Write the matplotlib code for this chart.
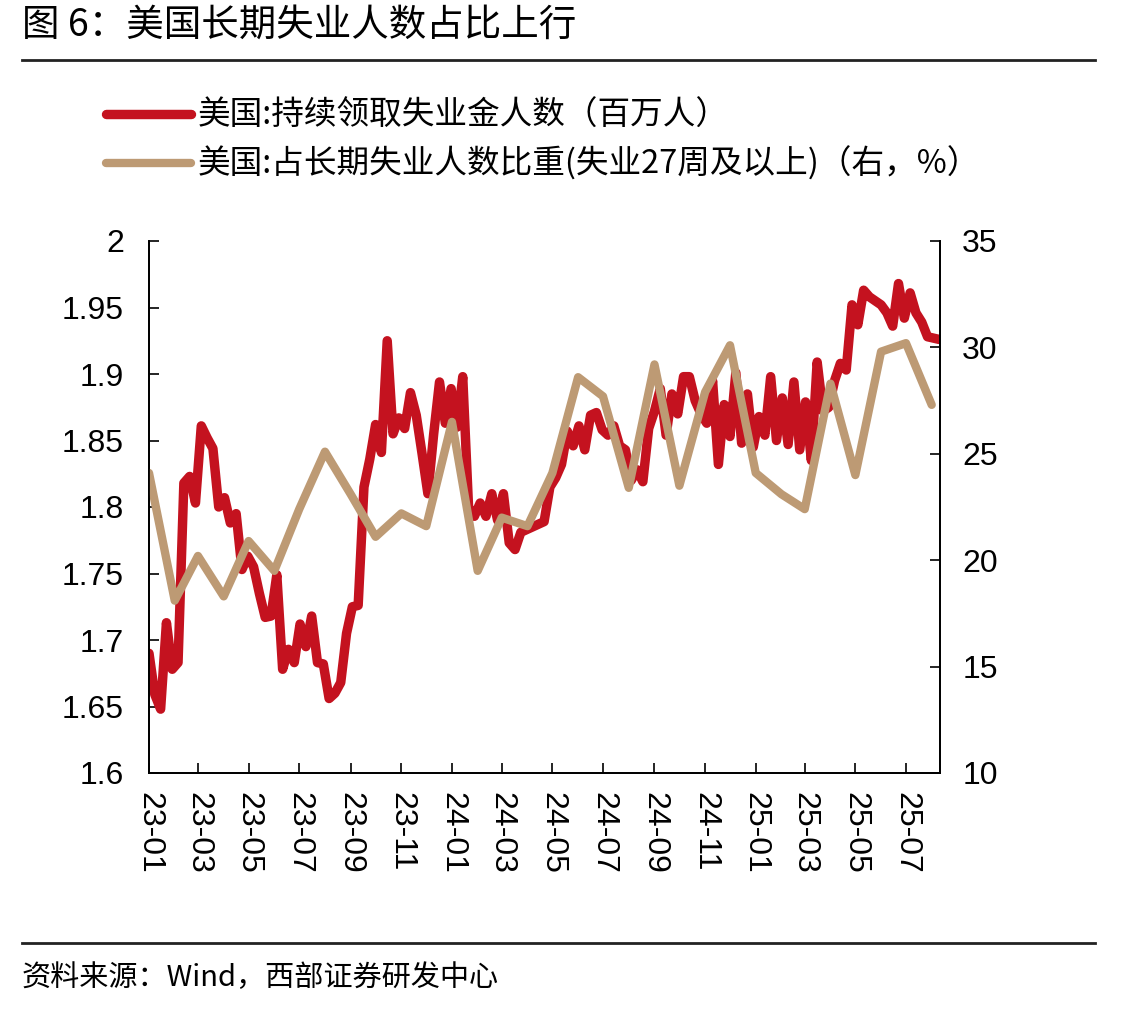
import pandas as pd
import matplotlib
matplotlib.use('Agg')
import matplotlib.pyplot as plt
import matplotlib.dates as mdates
from matplotlib.ticker import FuncFormatter, MultipleLocator
from matplotlib.lines import Line2D

plt.rcParams['font.family'] = ['Liberation Sans', 'Noto Sans CJK SC']
CJK = ['Noto Sans CJK SC', 'Liberation Sans']

# 持续领取失业金人数（百万人），周度
claims = [1.690, 1.659, 1.648, 1.713, 1.678, 1.683, 1.818, 1.823, 1.803, 1.861,
          1.852, 1.844, 1.800, 1.807, 1.788, 1.795, 1.753, 1.763, 1.755, 1.735,
          1.717, 1.718, 1.749, 1.678, 1.693, 1.683, 1.712, 1.695, 1.718, 1.683,
          1.682, 1.656, 1.660, 1.668, 1.705, 1.725, 1.726, 1.815, 1.836, 1.862,
          1.841, 1.925, 1.855, 1.867, 1.859, 1.886, 1.869, 1.840, 1.810, 1.855,
          1.894, 1.863, 1.889, 1.860, 1.898, 1.800, 1.793, 1.803, 1.793, 1.810,
          1.790, 1.810, 1.773, 1.768, 1.781, 1.783, 1.785, 1.787, 1.789, 1.815,
          1.822, 1.832, 1.857, 1.846, 1.861, 1.843, 1.869, 1.871, 1.858, 1.854,
          1.861, 1.846, 1.843, 1.820, 1.828, 1.819, 1.859, 1.872, 1.889, 1.854,
          1.885, 1.870, 1.898, 1.898, 1.880, 1.870, 1.863, 1.895, 1.832, 1.877,
          1.853, 1.901, 1.848, 1.885, 1.845, 1.868, 1.854, 1.898, 1.850, 1.882,
          1.847, 1.894, 1.843, 1.879, 1.835, 1.909, 1.872, 1.875, 1.895, 1.908,
          1.903, 1.952, 1.937, 1.963, 1.958, 1.955, 1.952, 1.946, 1.936, 1.968,
          1.942, 1.961, 1.946, 1.939, 1.928, 1.927, 1.926]
claims_dates = pd.date_range('2023-01-01', periods=len(claims), freq='7D')

# 长期失业人数占比（%），月度
share = [24.1, 18.1, 20.2, 18.3, 20.9, 19.5, 22.4, 25.1, 23.1, 21.1,
         22.2, 21.6, 26.5, 19.5, 22.0, 21.6, 24.1, 28.6, 27.7, 23.4,
         29.2, 23.5, 27.9, 30.1, 24.1, 23.1, 22.4, 28.3, 24.0, 29.8,
         30.2, 27.3]
share_dates = pd.date_range('2023-01-01', periods=len(share), freq='MS')

label_claims = '美国:持续领取失业金人数（百万人）'
label_share = '美国:占长期失业人数比重(失业27周及以上)（右，%）'

RED = '#C4121F'
TAN = '#BD9A74'

fig = plt.figure(figsize=(11.44, 10.10), dpi=100)
ax = fig.add_axes([149 / 1144, 1 - 773 / 1010, (940 - 149) / 1144, (773 - 241) / 1010])
ax2 = ax.twinx()

l1, = ax.plot(claims_dates, claims, color=RED, lw=6.8, solid_joinstyle='round',
              solid_capstyle='round', label=label_claims)
l2, = ax2.plot(share_dates, share, color=TAN, lw=6, solid_joinstyle='round',
               solid_capstyle='round', label=label_share)

ax.set_xlim(pd.Timestamp('2023-01-01'), pd.Timestamp('2025-08-11'))
ax.set_ylim(1.6, 2.0)
ax2.set_ylim(10, 35)
ax.yaxis.set_major_locator(MultipleLocator(0.05))
ax2.yaxis.set_major_locator(MultipleLocator(5))
ax.yaxis.set_major_formatter(FuncFormatter(lambda v, p: f'{v:g}'))
ax2.yaxis.set_major_formatter(FuncFormatter(lambda v, p: f'{v:g}'))
ax.xaxis.set_major_locator(mdates.MonthLocator(bymonth=[1, 3, 5, 7, 9, 11]))
ax.xaxis.set_major_formatter(mdates.DateFormatter('%y-%m'))

for a in (ax, ax2):
    a.spines['top'].set_visible(False)
    for s in a.spines.values():
        s.set_linewidth(1.3)
ax.tick_params(axis='y', direction='in', length=7, width=1.2, labelsize=23, pad=18)
ax2.tick_params(axis='y', direction='in', length=7, width=1.2, labelsize=23, pad=16)
ax.tick_params(axis='x', direction='in', length=7, width=1.2, labelsize=23, pad=14)
for t in ax.get_xticklabels():
    t.set_rotation(-90)
    t.set_va('top')
    t.set_ha('center')

fig.legend(handles=[l1, l2], loc='upper left', bbox_to_anchor=(106 / 1144, 1 - 100 / 1010),
           frameon=False, prop={'family': CJK, 'size': 23.5}, handlelength=2.6,
           handletextpad=0.22, labelspacing=0.45, borderpad=0, borderaxespad=0)

fig.text(22 / 1144, 1 - 25 / 1010, '图 6：美国长期失业人数占比上行', family=CJK,
         fontsize=27, va='center', ha='left')
fig.add_artist(Line2D([22 / 1144, 1095 / 1144], [1 - 60 / 1010] * 2,
                      color='#222222', lw=2))
fig.add_artist(Line2D([22 / 1144, 1095 / 1144], [1 - 943 / 1010] * 2,
                      color='#222222', lw=2))
fig.text(22 / 1144, 1 - 978 / 1010, '资料来源：Wind，西部证券研发中心', family=CJK,
         fontsize=21, va='center', ha='left')

fig.savefig('out.png', dpi=100)
